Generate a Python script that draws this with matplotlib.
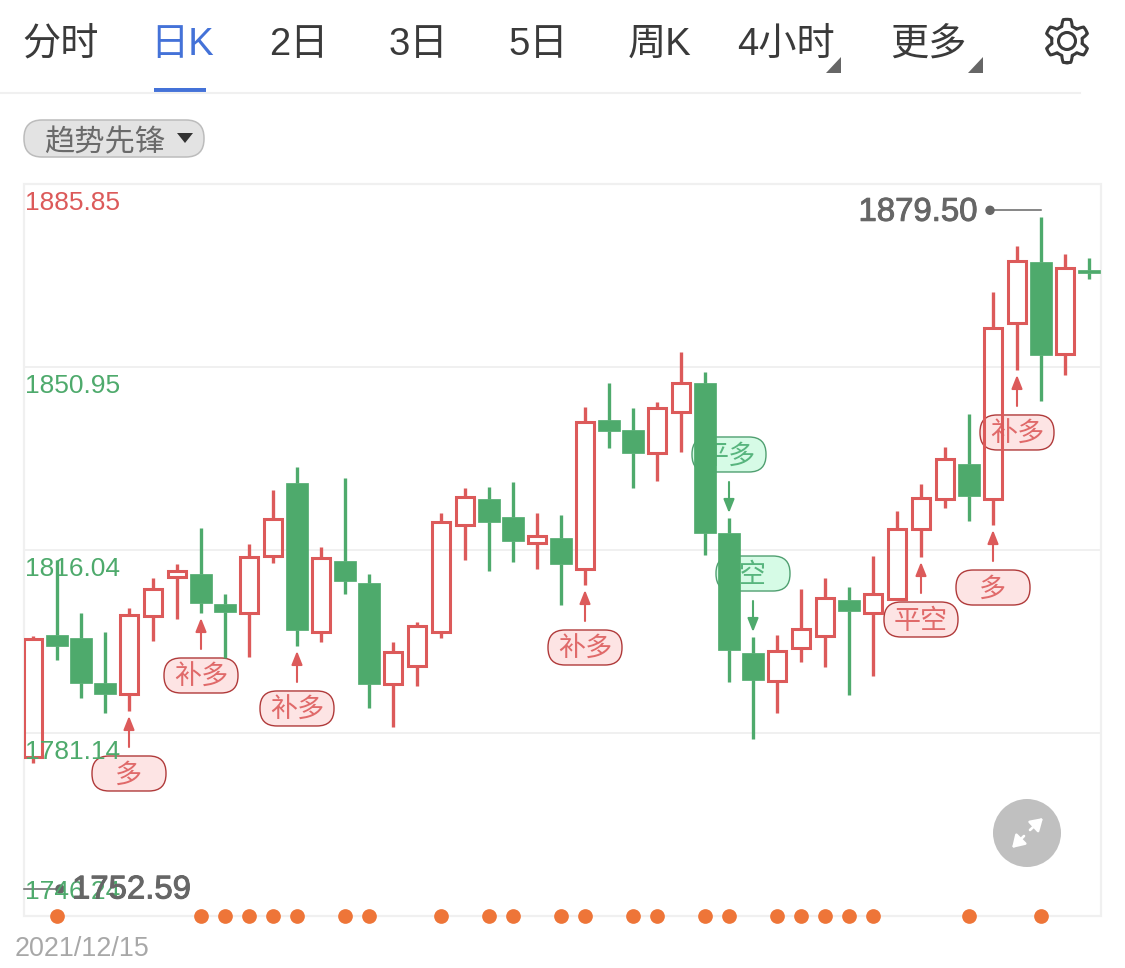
import numpy as np
import matplotlib
matplotlib.use("Agg")
import matplotlib.pyplot as plt
import matplotlib.patheffects as pe
from matplotlib.patches import FancyBboxPatch, Polygon, Circle, FancyArrowPatch

FONT = ['Liberation Sans', 'Noto Sans CJK SC', 'DejaVu Sans']
plt.rcParams['font.family'] = FONT

# ---------- data ----------
tabs = ['分时', '日K', '2日', '3日', '5日', '周K', '4小时', '更多']
indicator = '趋势先锋'
date_label = '2021/12/15'
axis_values = [1885.85, 1850.95, 1816.04, 1781.14, 1746.24]
axis_labels = ['1885.85', '1850.95', '1816.04', '1781.14', '1746.24']
max_label = '1879.50'
min_label = '1752.59'

is_up = [1,0,0,0,1,1,1,0,0,1,1,0,1,0,0,1,1,1,1,0,0,1,0,1,0,0,1,1,0,0,0,1,1,1,0,1,1,1,1,0,1,1,0,1,0]
highs = [1799.64,1814.14,1804.03,1800.41,1804.98,1810.71,1813.38,1820.24,1807.65,1817.19,1827.49,1831.88,1816.62,1829.78,1811.47,
         1798.50,1802.31,1823.10,1827.87,1828.06,1829.02,1823.10,1822.72,1843.32,1847.90,1843.13,1844.27,1853.81,1849.99,1822.15,
         1799.45,1799.84,1808.61,1810.71,1808.99,1814.90,1823.48,1828.63,1835.69,1841.98,1865.25,1874.03,1879.50,1872.50,1871.74]
body_top = [1799.07,1799.84,1799.26,1790.68,1803.65,1808.61,1812.04,1811.47,1805.75,1814.71,1821.96,1828.82,1814.52,1813.95,1809.75,
            1796.59,1801.55,1821.39,1826.15,1825.77,1822.34,1818.72,1818.33,1840.46,1840.84,1838.93,1843.13,1847.90,1847.90,1819.29,
            1796.40,1796.78,1800.98,1806.89,1806.51,1807.65,1820.05,1825.96,1833.40,1832.45,1858.39,1871.16,1870.97,1869.83,1869.45]
body_bottom = [1776.57,1797.74,1790.68,1788.58,1788.58,1803.46,1810.90,1805.94,1804.22,1804.03,1814.90,1800.79,1800.41,1810.13,1790.49,
               1790.49,1793.92,1800.41,1820.81,1821.39,1817.76,1817.38,1813.38,1812.42,1838.74,1834.55,1834.55,1842.37,1819.29,1796.97,
               1791.25,1791.06,1797.36,1799.64,1804.41,1804.03,1806.70,1820.05,1825.77,1826.35,1825.77,1859.34,1853.24,1853.43,1868.95]
lows = [1775.42,1795.07,1787.82,1784.96,1785.34,1798.69,1802.89,1804.03,1795.45,1795.64,1813.57,1797.74,1798.50,1807.65,1785.91,
        1782.29,1790.11,1799.26,1814.14,1812.04,1813.76,1812.42,1805.56,1809.37,1835.50,1827.87,1829.21,1834.74,1815.09,1790.87,
        1780.00,1784.96,1794.69,1793.73,1788.39,1792.02,1806.51,1814.71,1824.06,1821.58,1820.81,1850.38,1844.46,1849.42,1867.73]

long_signals = [(4, '多'), (7, '补多'), (11, '补多'), (23, '补多'), (37, '平空'), (40, '多'), (41, '补多')]
short_signals = [(29, '平多'), (30, '空')]
dot_indices = [1,7,8,9,10,11,13,14,17,19,20,22,23,25,26,28,29,31,32,33,34,35,39,42]

# ---------- colours ----------
RED, GREEN = '#dc5a5a', '#4eaa6c'
GRID = '#f0f0f0'
ORANGE = '#ee7538'
W, H = 1125, 968
DARK = '#3a3a3a'

fig = plt.figure(figsize=(W / 100, H / 100), dpi=100, facecolor='white')

def pixel_axes(z):
    a = fig.add_axes([0, 0, 1, 1], zorder=z)
    a.set_xlim(0, W); a.set_ylim(H, 0); a.axis('off'); a.patch.set_alpha(0)
    return a

bg = pixel_axes(0)
ov = pixel_axes(2)

# chart axes
L, R, T, B = 24, 1101, 184, 916
ax = fig.add_axes([L / W, 1 - B / H, (R - L) / W, (B - T) / H], zorder=1)
ax.patch.set_alpha(0)
ax.set_xlim(-0.375, 44.125 + 0.375)
ax.set_ylim(axis_values[-1], axis_values[0])
ax.set_xticks([]); ax.set_yticks([])
for s in ax.spines.values():
    s.set_visible(False)

def to_px(i, v):
    x, y = ax.transData.transform((i, v))
    return x, H - y

# ---------- frame and grid ----------
bg.add_patch(plt.Rectangle((L, T), R - L, B - T, fc='none', ec=GRID, lw=1.6))
for v in axis_values[1:-1]:
    ax.axhline(v, color=GRID, lw=1.4, zorder=0)

# ---------- candles ----------
x_all = np.arange(len(highs))
colors = [RED if u else GREEN for u in is_up]
ax.vlines(x_all, highs, body_top, colors=colors, lw=2.4, zorder=2)
ax.vlines(x_all, lows, body_bottom, colors=colors, lw=2.4, zorder=2)
for i, up in enumerate(is_up):
    h = body_top[i] - body_bottom[i]
    if up:
        ax.bar(i, h, bottom=body_bottom[i], width=0.76, facecolor='none', edgecolor=RED, linewidth=2.2, zorder=3)
    else:
        ax.bar(i, h, bottom=body_bottom[i], width=0.88, facecolor=GREEN, edgecolor=GREEN, linewidth=0.5, zorder=3)

# ---------- signals ----------
def pill(a, cx, top, label, fc, ec, tc):
    a.add_patch(FancyBboxPatch((cx - 37, top), 74, 35, boxstyle='round,pad=0,rounding_size=17',
                               fc=fc, ec=ec, lw=1.0, mutation_aspect=1))
    a.text(cx, top + 20, label, color=tc, fontsize=19.5, ha='center', va='center')

def arrow(a, x, y0, y1, c):
    a.add_patch(FancyArrowPatch((x, y0), (x, y1), arrowstyle='-|>,head_length=0.9,head_width=0.36',
                                mutation_scale=9, color=c, lw=1.5, shrinkA=0, shrinkB=0))

for i, label in long_signals:
    x, y = to_px(i, lows[i])
    arrow(ov, x, y + 36, y + 5, RED)
    pill(bg, x, y + 45, label, '#fde4e4', '#b03a3a', '#e06a6a')
for i, label in short_signals:
    x, y = to_px(i, highs[i])
    arrow(ov, x, y - 36, y - 5, GREEN)
    pill(bg, x, y - 81, label, '#d6fbe6', '#4f9f70', '#58b57e')

# ---------- bottom dots ----------
ax.scatter(dot_indices, [axis_values[-1]] * len(dot_indices), s=112, color=ORANGE, lw=0, zorder=6, clip_on=False)

# ---------- axis labels ----------
label_offsets = [19, 19, 19, 19, -24]
label_colors = [RED, GREEN, GREEN, GREEN, GREEN]
for v, t, off, c in zip(axis_values, axis_labels, label_offsets, label_colors):
    _, y = to_px(0, v)
    ov.text(25, y + off, t, color=c, fontsize=19, ha='left', va='center')

# ---------- max / min callouts ----------
GRAY = '#666666'
bold = [pe.withStroke(linewidth=0.7, foreground=GRAY)]
imax = int(np.argmax(highs))
xm, ym = to_px(imax, highs[imax])
ov.plot([990, xm], [ym - 7, ym - 7], color=GRAY, lw=1.1)
ov.add_patch(Circle((990, ym - 7), 4, color=GRAY))
ov.text(977, ym - 5, max_label, color=GRAY, fontsize=23.7, ha='right', va='center', path_effects=bold)
ov.plot([L, 60], [889, 889], color=GRAY, lw=1.1)
ov.add_patch(Circle((60, 889), 4, color=GRAY))
ov.text(72, 890, min_label, color=GRAY, fontsize=23.7, ha='left', va='center', path_effects=bold)

ov.text(15, 949, date_label, color='#a8a8a8', fontsize=19.4, ha='left', va='center')

# ---------- tabs ----------
tab_x = [61, 182, 299, 418, 538, 660, 786, 928]
for x, t in zip(tab_x, tabs):
    ov.text(x, 45, t, fontsize=27.5, ha='center', va='center', color='#4472d8' if t == '日K' else DARK)
ov.plot([0, 1080], [93, 93], color=GRID, lw=1.5)
ov.add_patch(plt.Rectangle((154, 88), 52, 4, color='#4472d8', lw=0))
for x in (841, 983):
    ov.add_patch(Polygon([(x, 57), (x, 73), (x - 15, 73)], color='#666666', lw=0))

# gear
theta = np.linspace(0, 2 * np.pi, 361)
r = 18.5 + 3.2 * np.clip(np.cos(6 * theta) * 2.0, -1, 1)
ov.plot(1067 + r * np.cos(theta + np.pi / 2), 41 + r * np.sin(theta + np.pi / 2), color=DARK, lw=2.2)
ov.add_patch(Circle((1067, 41), 8.5, fc='none', ec=DARK, lw=2.2))

# indicator pill
ov.add_patch(FancyBboxPatch((24, 120), 180, 37, boxstyle='round,pad=0,rounding_size=18',
                            fc='#e3e3e3', ec='#bcbcbc', lw=1.1))
ov.text(105, 143, indicator, color='#6a6a6a', fontsize=21.8, ha='center', va='center')
ov.add_patch(Polygon([(177, 133), (193, 133), (185, 143)], color='#333333', lw=0))

# expand button
ov.add_patch(Circle((1027, 833), 34, color='#c0c0c0', lw=0))
for p0, p1 in [((1030, 830), (1043, 818)), ((1024, 836), (1012, 848))]:
    ov.add_patch(FancyArrowPatch(p0, p1, arrowstyle='-|>,head_length=0.8,head_width=0.5',
                                 mutation_scale=9, color='white', lw=1.9, shrinkA=0, shrinkB=0))

fig.savefig('out.png', dpi=100, facecolor='white')
